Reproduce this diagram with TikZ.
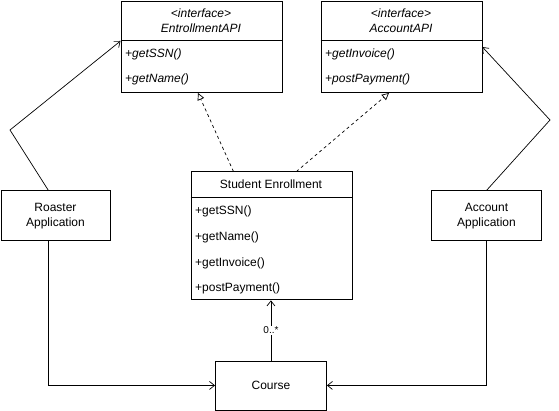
\documentclass[tikz,border=0pt]{standalone}
\usepackage{fontspec}
\setmainfont{Liberation Sans}
\usetikzlibrary{arrows.meta}
\begin{document}
\begin{tikzpicture}[x=1pt,y=-1pt,
  txt/.style={font=\fontsize{12}{15}\selectfont},
  box/.style={draw, line width=0.9pt, inner sep=0pt, anchor=north west, txt, align=center},
  item/.style={anchor=base west, inner sep=0pt, txt},
  iitem/.style={item, font=\fontsize{12}{15}\selectfont\itshape},
  head/.style={inner sep=0pt, txt, align=center},
  openarrow/.style={line width=0.7pt, -{Straight Barb[length=5pt,width=8pt,line width=0.7pt]}},
  realize/.style={line width=0.7pt, dash pattern=on 3pt off 3pt, -{Triangle[open,length=7pt,width=7pt,line width=0.7pt]}},
  divider/.style={line width=0.9pt}
]
\useasboundingbox (0,0) rectangle (559,411);

% EnrollmentAPI interface
\node[box, minimum width=161pt, minimum height=91pt] (eapi) at (120.5,1.5) {};
\draw[divider] (120.5,40.5) -- (281.5,40.5);
\node[head] (eapih) at (201,21) {\itshape\textless interface\textgreater\\\itshape EntrollmentAPI};
\node[iitem] (eapi1) at (125,58) {+getSSN()};
\node[iitem] (eapi2) at (125,83) {+getName()};

% AccountAPI interface
\node[box, minimum width=161pt, minimum height=91pt] (aapi) at (320.5,1.5) {};
\draw[divider] (320.5,40.5) -- (481.5,40.5);
\node[head] (aapih) at (401,21) {\itshape\textless interface\textgreater\\\itshape AccountAPI};
\node[iitem] (aapi1) at (325,58) {+getInvoice()};
\node[iitem] (aapi2) at (325,83) {+postPayment()};

% Student Enrollment class
\node[box, minimum width=161pt, minimum height=128pt] (se) at (190.5,171.5) {};
\draw[divider] (190.5,197.5) -- (351.5,197.5);
\node[head] (seh) at (271,184) {Student Enrollment};
\node[item] (se1) at (195,215) {+getSSN()};
\node[item] (se2) at (195,241) {+getName()};
\node[item] (se3) at (195,267) {+getInvoice()};
\node[item] (se4) at (195,292) {+postPayment()};

% Applications and Course
\node[box, minimum width=109pt, minimum height=50pt] (roast) at (0.5,190.5) {Roaster\\Application};
\node[box, minimum width=110pt, minimum height=50pt] (acct) at (431,190.5) {Account\\Application};
\node[box, minimum width=111pt, minimum height=49pt] (course) at (215,360.5) {Course};

% connectors
\coordinate (rbend) at (10,130);
\coordinate (abend) at (550,120);
\draw[openarrow] ([xshift=-7pt]roast.north) -- (rbend) -- (eapi.west |- 0,41);
\draw[openarrow] (acct.north) -- (abend) -- (aapi.east |- 0,47);
\draw[openarrow] ([xshift=-7pt]roast.south) |- (course.west);
\draw[openarrow] (acct.south) |- (course.east);
\draw[openarrow] (course.north) -- (course.north |- se.south)
  node[pos=0.5, fill=white, inner sep=1pt, font=\fontsize{10}{12}\selectfont] (mult) {0..*};
\draw[realize] ([xshift=-38pt]se.north) -- (198,93);
\draw[realize] ([xshift=25pt]se.north) -- (389,93);
\end{tikzpicture}
\end{document}
